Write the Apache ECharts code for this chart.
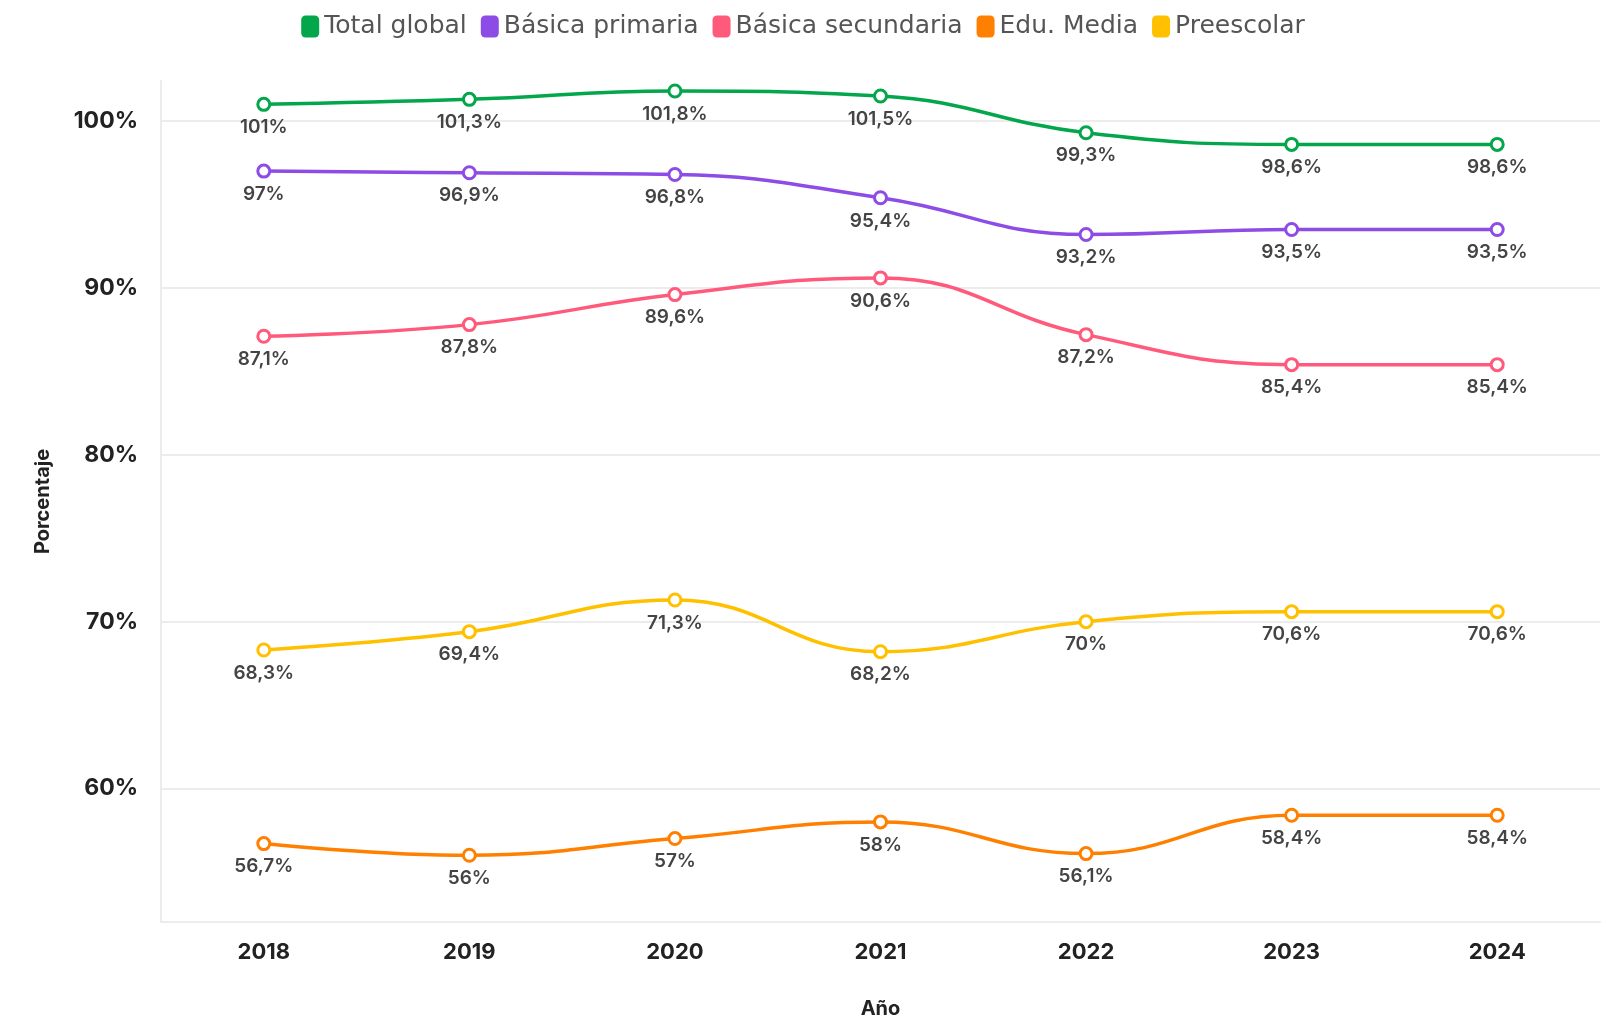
<!DOCTYPE html>
<html>
<head>
<meta charset="utf-8">
<script src="https://cdn.jsdelivr.net/npm/echarts@6/dist/echarts.min.js"></script>
<style>
  html, body { margin: 0; padding: 0; background: #fff; }
  #chart { width: 1606px; height: 1025px; }
</style>
</head>
<body>
<div id="chart"></div>
<script>
// years on the x axis
const years = ['2018', '2019', '2020', '2021', '2022', '2023', '2024'];

// coverage per level, in percent
const totalGlobal = [101, 101.3, 101.8, 101.5, 99.3, 98.6, 98.6];
const basicaPrimaria = [97, 96.9, 96.8, 95.4, 93.2, 93.5, 93.5];
const basicaSecundaria = [87.1, 87.8, 89.6, 90.6, 87.2, 85.4, 85.4];
const eduMedia = [56.7, 56, 57, 58, 56.1, 58.4, 58.4];
const preescolar = [68.3, 69.4, 71.3, 68.2, 70, 70.6, 70.6];

// y tick labels
const yTicks = [60, 70, 80, 90, 100];

const seriesDefs = [
  { name: 'Total global', data: totalGlobal, color: '#03a64b' },
  { name: 'Básica primaria', data: basicaPrimaria, color: '#8d4ce6' },
  { name: 'Básica secundaria', data: basicaSecundaria, color: '#ff5a7b' },
  { name: 'Edu. Media', data: eduMedia, color: '#ff8000' },
  { name: 'Preescolar', data: preescolar, color: '#ffc000' }
];

function fmt(v) {
  return String(v).replace('.', ',') + '%';
}

const chart = echarts.init(document.getElementById('chart'));

const option = {
  animation: false,
  legend: {
    top: 9,
    left: 'center',
    icon: 'roundRect',
    itemWidth: 18,
    itemHeight: 22,
    itemGap: 14,
    textStyle: {
      fontFamily: 'DejaVu Sans',
      fontSize: 25,
      color: '#555'
    },
    // legend swatches are solid, the symbols on the lines are hollow
    data: seriesDefs.map(s => ({
      name: s.name,
      itemStyle: { color: s.color, borderWidth: 0 }
    }))
  },
  grid: {
    left: 161,
    right: 6,
    top: 81,
    bottom: 103
  },
  xAxis: {
    type: 'category',
    data: years,
    name: 'Año',
    nameLocation: 'middle',
    nameGap: 77,
    nameTextStyle: {
      fontFamily: 'Inter',
      fontWeight: 'bold',
      fontSize: 20,
      color: '#222'
    },
    axisLine: { lineStyle: { color: '#ececec', width: 2 } },
    axisTick: { alignWithLabel: true, length: 11, lineStyle: { color: '#ececec', width: 2 } },
    axisLabel: {
      margin: 19,
      fontFamily: 'Inter',
      fontWeight: 'bold',
      fontSize: 22,
      color: '#222'
    }
  },
  yAxis: {
    type: 'value',
    min: 52,
    max: 102.4,
    name: 'Porcentaje',
    nameLocation: 'middle',
    nameGap: 108,
    nameTextStyle: {
      fontFamily: 'Inter',
      fontWeight: 'bold',
      fontSize: 20,
      color: '#222'
    },
    axisLine: { show: true, lineStyle: { color: '#ececec', width: 2 } },
    axisTick: { show: false, customValues: yTicks },
    axisLabel: {
      customValues: yTicks,
      margin: 23,
      fontFamily: 'Inter',
      fontWeight: 'bold',
      fontSize: 23,
      color: '#222',
      formatter: v => v + '%'
    },
    splitLine: { lineStyle: { color: '#ececec', width: 2 } }
  },
  series: seriesDefs.map(s => ({
    name: s.name,
    type: 'line',
    data: s.data,
    smooth: 0.45,
    symbol: 'circle',
    symbolSize: 12,
    showAllSymbol: true,
    itemStyle: { color: '#fff', borderColor: s.color, borderWidth: 3 },
    lineStyle: { color: s.color, width: 3.5 },
    label: {
      show: true,
      position: 'bottom',
      distance: 6,
      fontFamily: 'Inter',
      fontWeight: 600,
      fontSize: 19,
      color: '#444',
      formatter: p => fmt(p.value)
    }
  }))
};

chart.setOption(option);
</script>
</body>
</html>
